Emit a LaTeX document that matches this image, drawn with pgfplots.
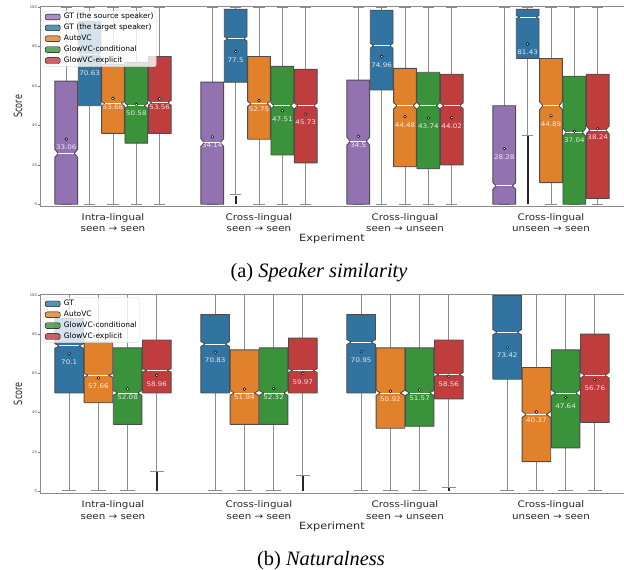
\documentclass[border=0pt]{standalone}
\usepackage{pgfplots}
\pgfplotsset{compat=1.18}
\usepackage{fontspec}
\setmainfont{DejaVu Sans}
\newfontfamily\stf{DejaVu Sans}[FakeStretch=1.14]
\newfontfamily\capfont{Liberation Serif}

\definecolor{cP}{HTML}{9372B2}
\definecolor{cB}{HTML}{3274A1}
\definecolor{cO}{HTML}{E1812C}
\definecolor{cG}{HTML}{3A923A}
\definecolor{cR}{HTML}{C03D3E}
\definecolor{edge}{HTML}{4D4D4D}

% \nbox{pos}{halfwidth}{q1}{median}{q3}{whisker low}{whisker high}{mean}{colour}
\newcommand\nbox[9]{%
  \pgfmathsetmacro\bxL{#1-#2}%
  \pgfmathsetmacro\bxR{#1+#2}%
  \pgfmathsetmacro\bcapL{#1-0.5*#2}%
  \pgfmathsetmacro\bcapR{#1+0.5*#2}%
  \pgfmathsetmacro\bnL{#1-0.7*#2}%
  \pgfmathsetmacro\bnR{#1+0.7*#2}%
  \pgfmathsetmacro\bnh{0.032*(#5-#3)}%
  \pgfmathsetmacro\bnlo{#4-\bnh}%
  \pgfmathsetmacro\bnhi{#4+\bnh}%
  \edef\btmp{%
    \noexpand\addplot[forget plot, whisk] coordinates {(#1,#6) (#1,#3)};
    \noexpand\addplot[forget plot, whisk] coordinates {(#1,#5) (#1,#7)};
    \noexpand\addplot[forget plot, whisk] coordinates {(\bcapL,#6) (\bcapR,#6)};
    \noexpand\addplot[forget plot, whisk] coordinates {(\bcapL,#7) (\bcapR,#7)};
    \noexpand\addplot[forget plot, boxst, fill=#9] coordinates {(\bxL,#3) (\bxR,#3) (\bxR,\bnlo) (\bnR,#4) (\bxR,\bnhi) (\bxR,#5) (\bxL,#5) (\bxL,\bnhi) (\bnL,#4) (\bxL,\bnlo) (\bxL,#3)};
    \noexpand\addplot[forget plot, medst] coordinates {(\bnL,#4) (\bnR,#4)};
    \noexpand\addplot[forget plot, meanst, text=white!85!#9, nodes near coords={#8}] coordinates {(#1,#8)};
  }\btmp}

\pgfplotsset{legend image code/.code={\fill[#1] (0bp,-2.9bp) rectangle (15bp,2.9bp);}}

\pgfplotsset{
  whisk/.style={draw=black!45, line width=1bp, no marks},
  boxst/.style={draw=edge, line width=0.9bp, no marks},
  medst/.style={draw=white, line width=0.9bp, no marks},
  meanst/.style={only marks, mark=*, mark size=1.4bp, mark options={fill=white, draw=black, line width=0.5bp},
    every node near coord/.style={anchor=center, yshift=-8.5bp, inner sep=0pt, font=\stf\fontsize{6.3}{7}\selectfont}},
  flier/.style={forget plot, only marks, mark=|, mark size=1.4bp, mark options={draw=black!85, line width=2.2bp}},
  myax/.style={
    scale only axis, width=584bp, height=199.3bp,
    xmin=-0.5, xmax=3.5,
    xtick={0,1,2,3},
    xticklabels={{Intra-lingual\\seen → seen},{Cross-lingual\\seen → seen},{Cross-lingual\\seen → unseen},{Cross-lingual\\unseen → seen}},
    xticklabel style={align=center, anchor=center, yshift=-14.8bp, font=\stf\fontsize{9.1}{11.5}\selectfont, text=black!85},
    ytick={0,20,40,60,80,100},
    yticklabel style={font=\fontsize{3.6}{4}\selectfont, text=black!75, inner sep=1bp},
    /pgf/number format/assume math mode=true,
    tick align=outside, major tick length=2bp,
    xtick style={draw=none},
    ytick style={draw=black!55, line width=0.5bp},
    axis line style={draw=black!45, line width=0.8bp},
    xlabel={Experiment}, ylabel={Score},
    xlabel style={at={(axis description cs:0.5,0)}, anchor=center, yshift=-33bp, font=\stf\fontsize{10}{12}\selectfont, text=black!85},
    ylabel style={at={(axis description cs:-0.0377,0.5)}, anchor=center, yscale=1.4, font=\fontsize{8.2}{10}\selectfont, text=black!85},
    clip=false,
    legend cell align=left,
    legend style={anchor=north west, fill=white, fill opacity=0.8, text opacity=1, draw=black!15, rounded corners=2bp,
      font=\fontsize{7.5}{9}\selectfont, inner sep=1.5bp, row sep=1.7bp, column sep=2.5bp,
      nodes={inner sep=1bp, text height=5.6bp, text depth=1.6bp}},
  }
}

\begin{document}
\begin{tikzpicture}[x=1bp,y=1bp]
\useasboundingbox (0,0) rectangle (624,570);

% ---------------- (a) Speaker similarity ----------------
\begin{axis}[myax, at={(40bp,364bp)}, anchor=south west, ymin=-0.9, ymax=100.3,
  legend style={at={(0.0057,0.98)}}]
\addlegendimage{fill=cP}\addlegendentry{GT (the source speaker)}
\addlegendimage{fill=cB}\addlegendentry{GT (the target speaker)}
\addlegendimage{fill=cO}\addlegendentry{AutoVC}
\addlegendimage{fill=cG}\addlegendentry{GlowVC-conditional}
\addlegendimage{fill=cR}\addlegendentry{GlowVC-explicit}
% Intra-lingual seen -> seen
\nbox{-0.32}{0.078}{0}{25.8}{62.5}{0}{100}{33.06}{cP}
\nbox{-0.16}{0.078}{50}{76}{92.7}{0}{100}{70.63}{cB}
\nbox{0}{0.078}{36}{51}{71}{0}{100}{53.68}{cO}
\nbox{0.16}{0.078}{31}{50}{72}{0}{100}{50.58}{cG}
\nbox{0.32}{0.078}{36}{51.5}{75}{0}{100}{53.56}{cR}
% Cross-lingual seen -> seen
\nbox{0.68}{0.078}{0}{31.3}{62}{0}{100}{34.14}{cP}
\nbox{0.84}{0.078}{62}{84}{99}{5}{100}{77.5}{cB}
\nbox{1}{0.078}{33}{51}{75}{0}{100}{52.75}{cO}
\nbox{1.16}{0.078}{25}{50}{70}{0}{100}{47.51}{cG}
\nbox{1.32}{0.078}{21}{50}{68.5}{0}{100}{45.73}{cR}
% Cross-lingual seen -> unseen
\nbox{1.68}{0.078}{0}{32}{63}{0}{100}{34.5}{cP}
\nbox{1.84}{0.078}{58}{80.5}{98.5}{0}{100}{74.96}{cB}
\nbox{2}{0.078}{19}{50}{69}{0}{100}{44.48}{cO}
\nbox{2.16}{0.078}{18}{50}{67}{0}{100}{43.74}{cG}
\nbox{2.32}{0.078}{20}{50}{66}{0}{100}{44.02}{cR}
% Cross-lingual unseen -> seen
\nbox{2.68}{0.078}{0}{9.3}{50}{0}{100}{28.28}{cP}
\nbox{2.84}{0.078}{74}{95}{99}{35}{100}{81.43}{cB}
\nbox{3}{0.078}{11}{50}{74}{0}{100}{44.89}{cO}
\nbox{3.16}{0.078}{0}{36.5}{65}{0}{100}{37.04}{cG}
\nbox{3.32}{0.078}{3}{37.7}{66}{0}{100}{38.24}{cR}
% outliers
\addplot[flier] coordinates {(0.84,0.6) (0.84,1) (0.84,2) (0.84,3) (0.84,3.4)};
\addplot[flier] coordinates {(2.84,0.6) (2.84,1) (2.84,2) (2.84,3) (2.84,4) (2.84,5) (2.84,6) (2.84,7) (2.84,8) (2.84,9) (2.84,10) (2.84,11) (2.84,12) (2.84,13) (2.84,14) (2.84,15) (2.84,16) (2.84,17) (2.84,18) (2.84,19) (2.84,20) (2.84,21) (2.84,22) (2.84,23) (2.84,24) (2.84,25) (2.84,26) (2.84,27) (2.84,28) (2.84,29) (2.84,30) (2.84,31) (2.84,32) (2.84,33) (2.84,34)};
\end{axis}

% ---------------- (b) Naturalness ----------------
\begin{axis}[myax, at={(40bp,76.7bp)}, anchor=south west, ymin=-1.2, ymax=100.5,
  legend style={at={(0.0057,0.982)}}]
\addlegendimage{fill=cB}\addlegendentry{GT}
\addlegendimage{fill=cO}\addlegendentry{AutoVC}
\addlegendimage{fill=cG}\addlegendentry{GlowVC-conditional}
\addlegendimage{fill=cR}\addlegendentry{GlowVC-explicit}
\nbox{-0.3}{0.098}{50}{74}{88}{0}{100}{70.1}{cB}
\nbox{-0.1}{0.098}{45}{59}{76}{0}{100}{57.66}{cO}
\nbox{0.1}{0.098}{34}{50}{73}{0}{100}{52.08}{cG}
\nbox{0.3}{0.098}{50}{61.5}{77}{10}{100}{58.96}{cR}
\nbox{0.7}{0.098}{50}{75}{90}{0}{100}{70.83}{cB}
\nbox{0.9}{0.098}{34}{50}{72}{0}{100}{51.94}{cO}
\nbox{1.1}{0.098}{34}{50}{73}{0}{100}{52.32}{cG}
\nbox{1.3}{0.098}{50}{61.4}{78}{8}{100}{59.97}{cR}
\nbox{1.7}{0.098}{50}{76}{90}{0}{100}{70.95}{cB}
\nbox{1.9}{0.098}{32}{50}{73}{0}{100}{50.92}{cO}
\nbox{2.1}{0.098}{33}{50}{73}{0}{100}{51.57}{cG}
\nbox{2.3}{0.098}{47}{59.4}{77}{2}{100}{58.56}{cR}
\nbox{2.7}{0.098}{57}{81}{99.7}{0}{100}{73.42}{cB}
\nbox{2.9}{0.098}{15}{39}{63}{0}{100}{40.37}{cO}
\nbox{3.1}{0.098}{22}{50}{72}{0}{100}{47.64}{cG}
\nbox{3.3}{0.098}{35}{59}{80}{0}{100}{56.76}{cR}
\addplot[flier] coordinates {(0.3,0.6) (0.3,1) (0.3,2) (0.3,3) (0.3,4) (0.3,5) (0.3,6) (0.3,7) (0.3,8) (0.3,9)};
\addplot[flier] coordinates {(1.3,0.6) (1.3,1) (1.3,2) (1.3,3) (1.3,4) (1.3,5) (1.3,6) (1.3,7)};
\addplot[flier] coordinates {(2.3,0.6) (2.3,1)};
\end{axis}

\node[anchor=base, font=\capfont\fontsize{20.5}{24}\selectfont] at (319,292) {(a) \textit{Speaker similarity}};
\node[anchor=base, font=\capfont\fontsize{20.5}{24}\selectfont] at (321,4) {(b) \textit{Naturalness}};
\end{tikzpicture}
\end{document}
